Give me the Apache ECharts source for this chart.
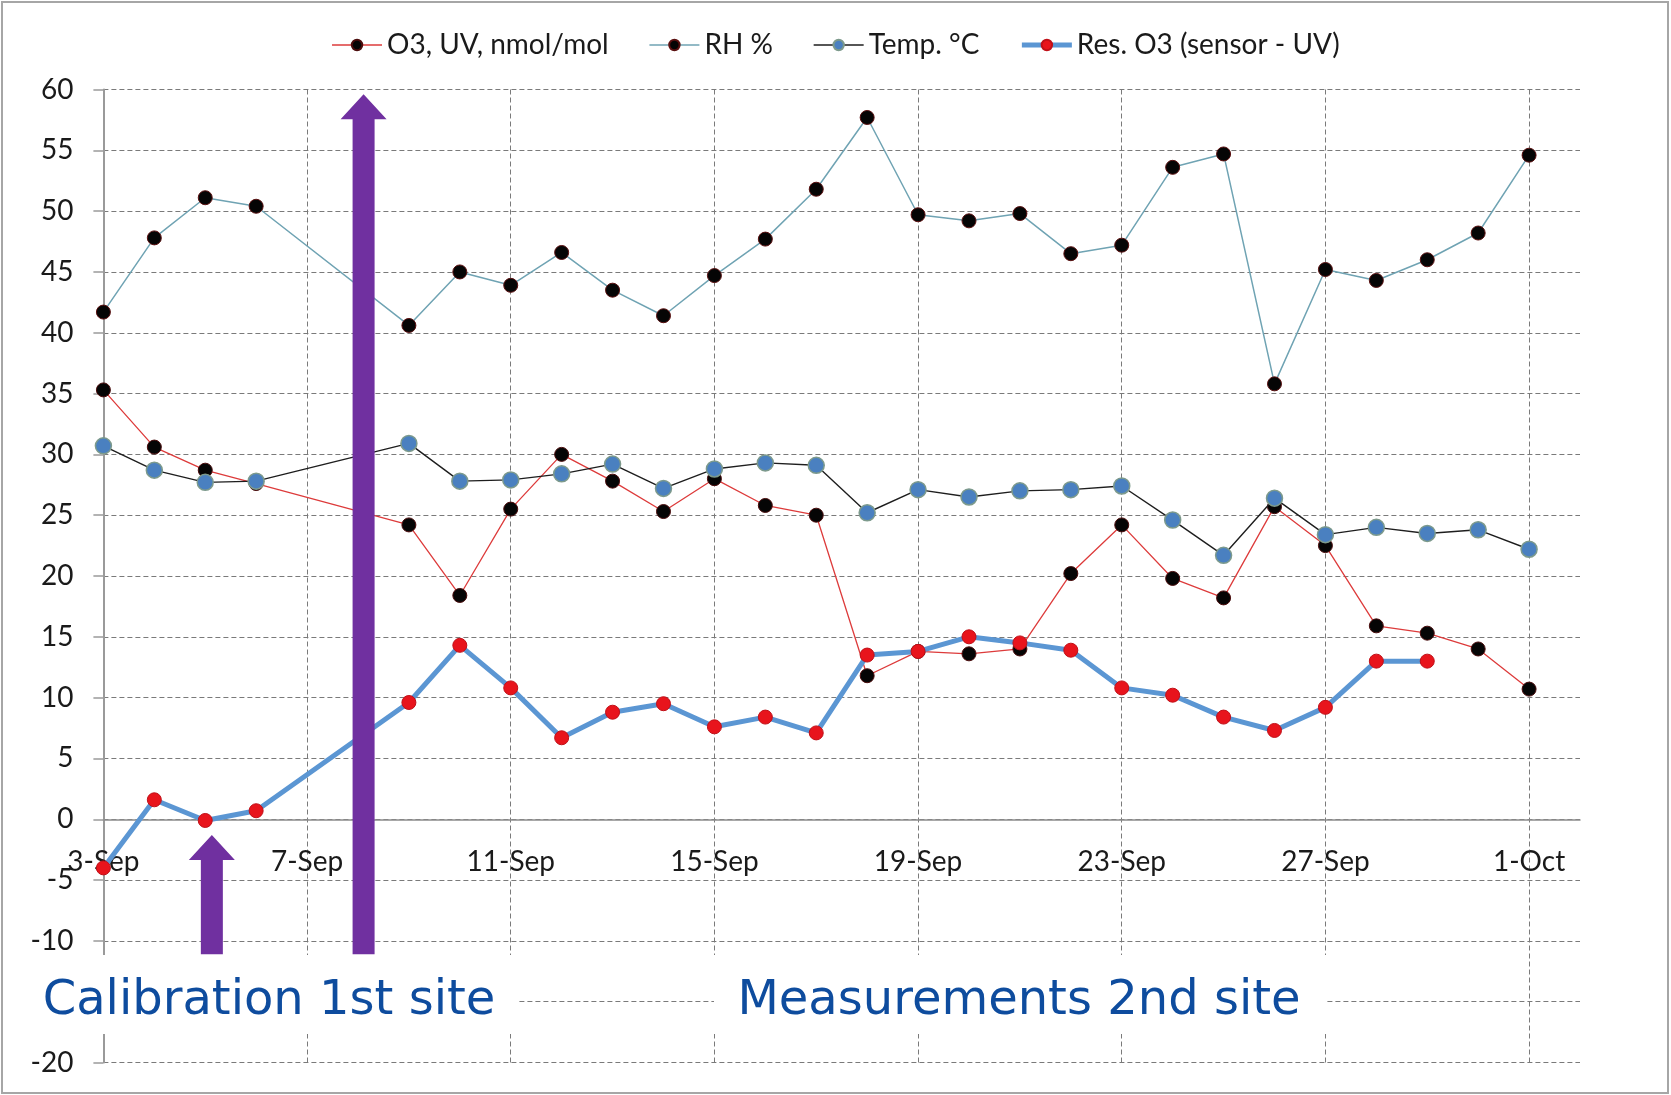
<!DOCTYPE html>
<html>
<head>
<meta charset="utf-8">
<script src="https://cdn.jsdelivr.net/npm/echarts@6/dist/echarts.min.js"></script>
<style>
  html, body { margin: 0; padding: 0; background: #ffffff; }
  #chart { width: 1671px; height: 1095px; }
</style>
</head>
<body>
<div id="chart"></div>
<script>
// Daily campaign values, 3 Sep to 2 Oct (null = no measurement that day)
const days = ['3-Sep','4-Sep','5-Sep','6-Sep','7-Sep','8-Sep','9-Sep','10-Sep','11-Sep','12-Sep',
  '13-Sep','14-Sep','15-Sep','16-Sep','17-Sep','18-Sep','19-Sep','20-Sep','21-Sep','22-Sep',
  '23-Sep','24-Sep','25-Sep','26-Sep','27-Sep','28-Sep','29-Sep','30-Sep','1-Oct','2-Oct'];

const o3Uv = [35.3, 30.6, 28.7, 27.6, null, null, 24.2, 18.4, 25.5, 30.0,
  27.8, 25.3, 28.0, 25.8, 25.0, 11.8, 13.8, 13.6, 14.0, 20.2,
  24.2, 19.8, 18.2, 25.7, 22.5, 15.9, 15.3, 14.0, 10.7, null];

const rh = [41.7, 47.8, 51.1, 50.4, null, null, 40.6, 45.0, 43.9, 46.6,
  43.5, 41.4, 44.7, 47.7, 51.8, 57.7, 49.7, 49.2, 49.8, 46.5,
  47.2, 53.6, 54.7, 35.8, 45.2, 44.3, 46.0, 48.2, 54.6, null];

const temp = [30.7, 28.7, 27.7, 27.8, null, null, 30.9, 27.8, 27.9, 28.4,
  29.2, 27.2, 28.8, 29.3, 29.1, 25.2, 27.1, 26.5, 27.0, 27.1,
  27.4, 24.6, 21.7, 26.4, 23.4, 24.0, 23.5, 23.8, 22.2, null];

const resO3 = [-4.0, 1.6, -0.1, 0.7, null, null, 9.6, 14.3, 10.8, 6.7,
  8.8, 9.5, 7.6, 8.4, 7.1, 13.5, 13.8, 15.0, 14.5, 13.9,
  10.8, 10.2, 8.4, 7.3, 9.2, 13.0, 13.0, null, null, null];

const seriesNames = ['O3, UV, nmol/mol', 'RH %', 'Temp. °C', 'Res. O3 (sensor - UV)'];

// Value axis range
const Y_MIN = -20, Y_MAX = 60, Y_STEP = 5;

// Phase markers: day index and value range the arrows span
const calibrationArrow = { day: 2.13, from: -11.1, to: -1.3 };
const relocationArrow = { day: 5.11, from: -11.1, to: 59.6 };

const AXIS_FONT = 'Lato, "Open Sans", sans-serif';
const NOTE_FONT = '"DejaVu Sans", Verdana, sans-serif';

const GRID = { left: 103.4, right: 91, top: 89.5, bottom: 32.5 };
const plotHeight = 1095 - GRID.top - GRID.bottom;
// the category axis sits on the zero line of the value axis
const zeroOffset = plotHeight * (0 - Y_MIN) / (Y_MAX - Y_MIN);

const chart = echarts.init(document.getElementById('chart'), null, { renderer: 'canvas' });

const gridDash = { type: [5, 3], color: '#7a7a7a', width: 1 };

const colors = {
  o3Line: '#dd3b3b', rhLine: '#6fa3b3', tempLine: '#1e1e1e', resLine: '#5b96d3',
  dark: '#050505', tempDot: '#4a80c0', resDot: '#e8141c'
};

chart.setOption({
  animation: false,
  backgroundColor: '#ffffff',
  grid: Object.assign({ outerBoundsMode: 'none', containLabel: false }, GRID),
  legend: {
    top: 26,
    left: 'center',
    itemWidth: 50,
    itemHeight: 13,
    itemGap: 40,
    textStyle: { fontFamily: AXIS_FONT, fontSize: 28, color: '#1a1a1a' },
    data: [
      { name: seriesNames[0], lineStyle: { width: 1.3, color: colors.o3Line } },
      { name: seriesNames[1], lineStyle: { width: 1.5, color: colors.rhLine } },
      { name: seriesNames[2], lineStyle: { width: 1.4, color: colors.tempLine } },
      { name: seriesNames[3], lineStyle: { width: 5, color: colors.resLine } }
    ]
  },
  xAxis: {
    type: 'category',
    data: days,
    boundaryGap: false,
    position: 'bottom',
    offset: -zeroOffset,
    axisLine: { onZero: false, lineStyle: { color: '#8c8c8c', width: 1.5 } },
    axisTick: { show: false },
    axisLabel: {
      interval: 3,
      margin: 29,
      fontFamily: AXIS_FONT,
      fontSize: 28,
      color: '#1a1a1a'
    },
    splitLine: { show: true, interval: 3, lineStyle: gridDash }
  },
  yAxis: {
    type: 'value',
    min: Y_MIN,
    max: Y_MAX,
    interval: Y_STEP,
    axisLine: { show: true, lineStyle: { color: '#9a9a9a', width: 2 } },
    axisTick: { show: true, length: 10, lineStyle: { color: '#9a9a9a', width: 1.5 } },
    axisLabel: { margin: 30, fontFamily: AXIS_FONT, fontSize: 28, color: '#1a1a1a' },
    splitLine: { show: true, lineStyle: gridDash }
  },
  series: [
    {
      name: seriesNames[0],
      type: 'line',
      data: o3Uv,
      connectNulls: true,
      symbol: 'circle',
      symbolSize: 14,
      lineStyle: { color: colors.o3Line, width: 1.3 },
      itemStyle: { color: colors.dark, borderColor: '#4a0c0c', borderWidth: 1 },
      z: 2
    },
    {
      name: seriesNames[1],
      type: 'line',
      data: rh,
      connectNulls: true,
      symbol: 'circle',
      symbolSize: 14,
      lineStyle: { color: colors.rhLine, width: 1.5 },
      itemStyle: { color: colors.dark, borderColor: '#5a1010', borderWidth: 1 },
      z: 3
    },
    {
      name: seriesNames[2],
      type: 'line',
      data: temp,
      connectNulls: true,
      symbol: 'circle',
      symbolSize: 16,
      lineStyle: { color: colors.tempLine, width: 1.4 },
      itemStyle: { color: colors.tempDot, borderColor: '#7d9a8c', borderWidth: 1.5 },
      z: 4
    },
    {
      name: seriesNames[3],
      type: 'line',
      data: resO3,
      connectNulls: true,
      symbol: 'circle',
      symbolSize: 14,
      lineStyle: { color: colors.resLine, width: 5 },
      itemStyle: { color: colors.resDot, borderColor: '#c01018', borderWidth: 1 },
      z: 5
    }
  ]
});

// Pixel position of a fractional day index at a given value
function toPixel(day, value) {
  const i = Math.floor(day);
  const a = chart.convertToPixel({ gridIndex: 0 }, [i, value]);
  const b = chart.convertToPixel({ gridIndex: 0 }, [i + 1, value]);
  return [a[0] + (b[0] - a[0]) * (day - i), a[1]];
}

function arrowShape(spec) {
  const base = toPixel(spec.day, spec.from);
  const tip = toPixel(spec.day, spec.to);
  const x = base[0];
  const shaft = 11, head = 23, headLen = 25;
  return {
    type: 'polygon',
    z: 100,
    shape: {
      points: [
        [x - shaft, base[1]], [x - shaft, tip[1] + headLen], [x - head, tip[1] + headLen],
        [x, tip[1]], [x + head, tip[1] + headLen], [x + shaft, tip[1] + headLen], [x + shaft, base[1]]
      ]
    },
    style: { fill: '#7030a0' }
  };
}

function noteBox(text, left, right, top, bottom, textX) {
  return {
    type: 'group',
    z: 110,
    children: [
      { type: 'rect', z: 110, shape: { x: left, y: top, width: right - left, height: bottom - top },
        style: { fill: '#ffffff' } },
      { type: 'text', z: 111, x: textX, y: (top + bottom) / 2 + 7,
        style: { text: text, fill: '#0e4c9e', font: '48px ' + NOTE_FONT,
                 align: 'center', verticalAlign: 'middle' } }
    ]
  };
}

chart.setOption({
  graphic: [
    { type: 'rect', z: 120, shape: { x: 2, y: 2, width: 1666, height: 1091 },
      style: { fill: null, stroke: '#a6a6a6', lineWidth: 2 } },
    arrowShape(calibrationArrow),
    arrowShape(relocationArrow),
    noteBox('Calibration 1st site', 30, 519, 955, 1034, 269),
    noteBox('Measurements 2nd site', 714, 1327, 955, 1034, 1019)
  ]
});
</script>
</body>
</html>
